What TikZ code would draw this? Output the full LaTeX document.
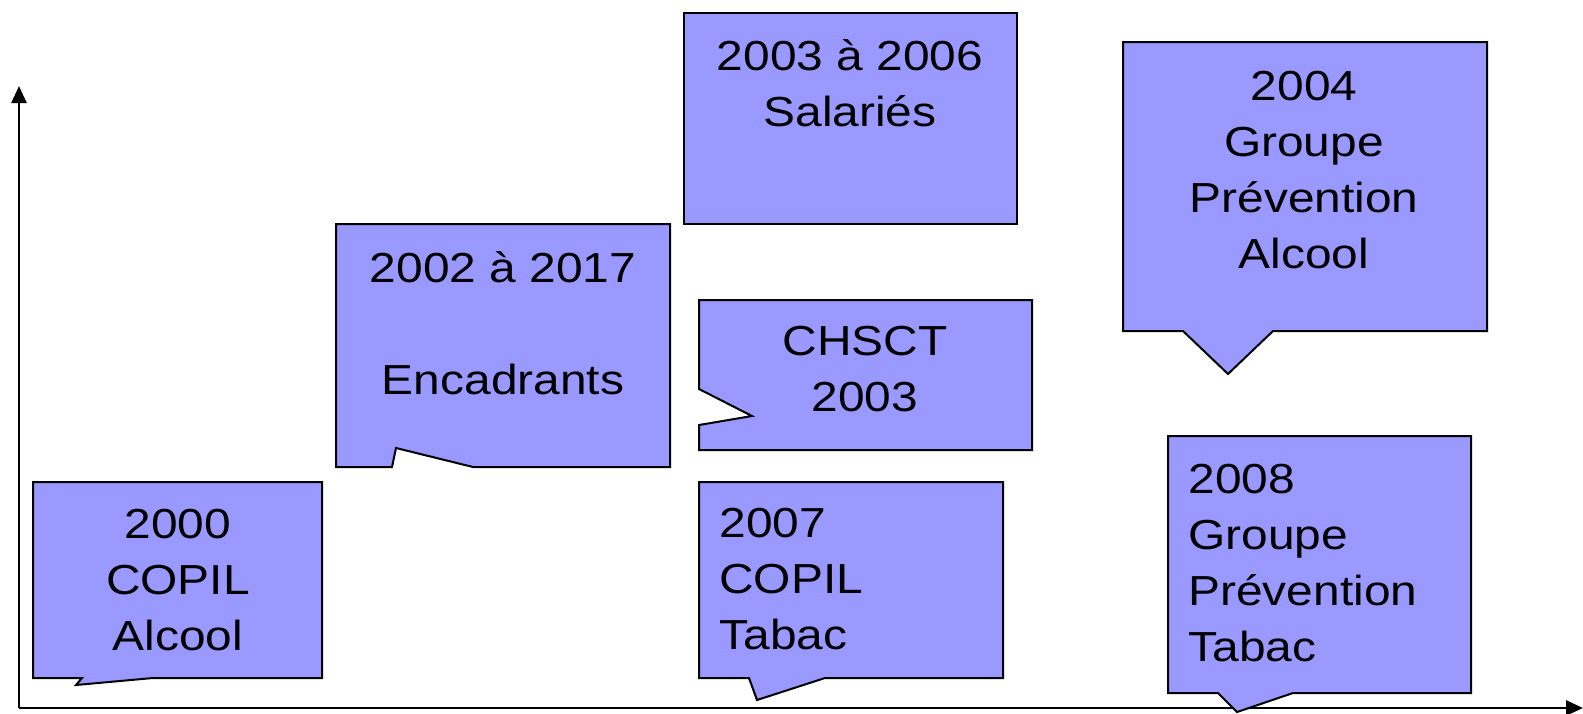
\documentclass[tikz,border=0pt]{standalone}
\usepackage{fontspec}
\setmainfont{Liberation Sans}[FakeStretch=1.14]
\usetikzlibrary{arrows.meta}

\begin{document}
\begin{tikzpicture}[
  x=0.5pt,
  y=-0.5pt,
  >=Latex,
  callout/.style={draw, line width=1pt, fill=boxblue, line join=miter},
  txt/.style={inner sep=0pt, align=center, font=\fontsize{21}{28}\selectfont},
  txtl/.style={txt, align=left, anchor=west},
  axis/.style={-{Triangle[width=7.5pt,length=8.5pt]}, line width=1.25pt}
]
\definecolor{boxblue}{RGB}{153,153,255}
\useasboundingbox (0,0) rectangle (1583,713);
% axes
\coordinate (o) at (19,708);
\coordinate (ytip) at (19,86);
\coordinate (xtip) at (1583,708);
\draw[axis] (o) -- (ytip);
\draw[axis] (o) -- (xtip);
% callout shapes
\draw[callout] (33,482) -- (322,482) -- (322,678) -- (153,678) -- (76,685)
  -- (82,678) -- (33,678) -- cycle;
\draw[callout] (336,224) -- (670,224) -- (670,467) -- (473,467) -- (396,448)
  -- (392,467) -- (336,467) -- cycle;
\draw[callout] (684,13) rectangle (1017,224);
\draw[callout] (699,300) -- (1032,300) -- (1032,450) -- (699,450) -- (699,425)
  -- (752,416) -- (699,389) -- cycle;
\draw[callout] (699,482) -- (1003,482) -- (1003,678) -- (825,678) -- (757,700)
  -- (749,678) -- (699,678) -- cycle;
\draw[callout] (1123,42) -- (1487,42) -- (1487,331) -- (1273,331) -- (1228,374)
  -- (1183,331) -- (1123,331) -- cycle;
\draw[callout] (1168,436) -- (1471,436) -- (1471,693) -- (1293,693) -- (1237,712)
  -- (1218,693) -- (1168,693) -- cycle;
% texts
\node[txt] (copil) at (178,580.5) {2000\\COPIL\\Alcool};
\node[txt] (enc) at (503,323.5) {2002 à 2017\\[28pt]Encadrants};
\node[txt] (sal) at (850,83) {2003 à 2006\\Salariés};
\node[txt] (chsct) at (865,369.5) {CHSCT\\2003};
\node[txtl] (tabac) at (719,579.5) {2007\\COPIL\\Tabac};
\node[txt] (gpa) at (1304,170.5) {2004\\Groupe\\Prévention\\Alcool};
\node[txtl] (gpt) at (1188,563.5) {2008\\Groupe\\Prévention\\Tabac};
\end{tikzpicture}
\end{document}
